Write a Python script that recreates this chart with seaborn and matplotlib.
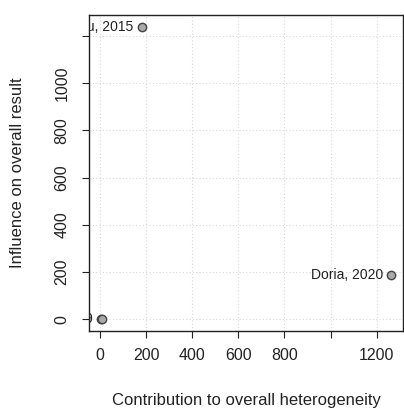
import pandas as pd
import matplotlib
matplotlib.use("Agg")
import matplotlib.pyplot as plt
import seaborn as sns

# Baujat plot values
studies = ["Liu, 2015", "Doria, 2020", "Chen, 2019", ""]
contribution = [182, 1264, 3, 10]
influence = [1239, 186, 1, 0]

x_ticks = [0, 200, 400, 600, 800, 1000, 1200]
x_tick_labels = ["0", "200", "400", "600", "800", "", "1200"]
y_ticks = [0, 200, 400, 600, 800, 1000, 1200]
y_tick_labels = ["0", "200", "400", "600", "800", "1000", ""]

df = pd.DataFrame({"study": studies, "contribution": contribution, "influence": influence})

sns.set_style("white")
plt.rcParams["font.family"] = ["Liberation Sans", "DejaVu Sans"]

fig = plt.figure(figsize=(4.04, 4.09), dpi=100)
ax = fig.add_axes([89 / 404, 78 / 409, 314 / 404, 316 / 409])

# R-style 4% padding around the data range
xr = max(contribution) - min(contribution)
yr = max(influence) - min(influence)
ax.set_xlim(min(contribution) - 0.04 * xr, max(contribution) + 0.04 * xr)
ax.set_ylim(min(influence) - 0.04 * yr, max(influence) + 0.04 * yr)

for v in x_ticks:
    ax.axvline(v, color="#d9d9d9", linestyle=(0, (1, 2)), linewidth=0.8, zorder=0)
for v in y_ticks:
    ax.axhline(v, color="#d9d9d9", linestyle=(0, (1, 2)), linewidth=0.8, zorder=0)

sns.scatterplot(data=df, x="contribution", y="influence", ax=ax, s=36,
                color="#a9a9a9", edgecolor="#444444", linewidth=1.0, zorder=3)

# labels sit left of each point; the ones near the left edge get clipped
for _, row in df.iterrows():
    if not row["study"]:
        continue
    ax.annotate(row["study"], (row["contribution"], row["influence"]),
                xytext=(-6, 0), textcoords="offset points", ha="right", va="center",
                fontsize=10, color="#222222", clip_on=True, annotation_clip=False)

ax.set_xticks(x_ticks)
ax.set_xticklabels(x_tick_labels)
ax.set_yticks(y_ticks)
ax.set_yticklabels(y_tick_labels, rotation=90, va="center")
ax.tick_params(axis="both", direction="out", length=5, width=0.8, color="#222222",
               labelsize=11.5, labelcolor="#222222", pad=7, bottom=True, left=True)
ax.tick_params(axis="y", pad=9)

for sp in ax.spines.values():
    sp.set_color("#222222")
    sp.set_linewidth(1.0)

ax.set_xlabel("Contribution to overall heterogeneity", fontsize=12, color="#222222")
ax.set_ylabel("Influence on overall result", fontsize=12, color="#222222")
ax.xaxis.set_label_coords(0.5, (331 - 400) / 316)
ax.yaxis.set_label_coords((18 - 89) / 314, 0.5)
ax.xaxis.label.set_va("center")
ax.yaxis.label.set_va("center")

fig.savefig("out.png", dpi=100)
